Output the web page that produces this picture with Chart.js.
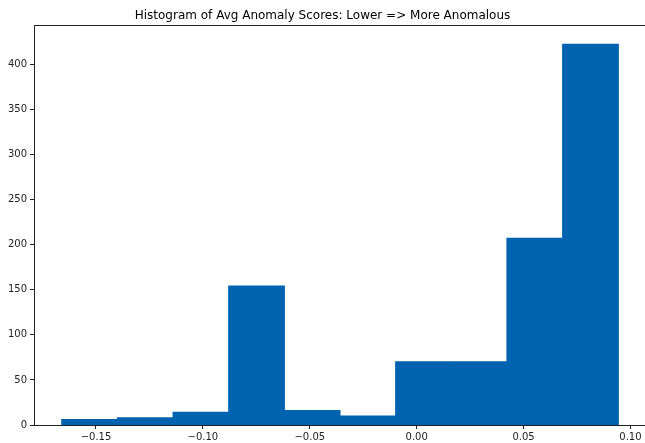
<!DOCTYPE html>
<html>
<head>
<meta charset="utf-8">
<script src="https://cdn.jsdelivr.net/npm/chart.js@4/dist/chart.umd.min.js"></script>
<style>
  html, body { margin: 0; padding: 0; background: #fff; }
  #wrap { width: 645px; height: 443px; }
</style>
</head>
<body>
<div id="wrap"><canvas id="c" width="645" height="443"></canvas></div>
<script>
const titleText = "Histogram of Avg Anomaly Scores: Lower => More Anomalous";
const binEdges = [-0.1660, -0.1400, -0.1139, -0.0879, -0.0619, -0.0359, -0.0098, 0.0162, 0.0422, 0.0683, 0.0943];
const counts = [6, 8, 14, 154, 16, 10, 70, 70, 207, 422];
const xTickValues = [-0.15, -0.10, -0.05, 0.00, 0.05, 0.10];
const yTickValues = [0, 50, 100, 150, 200, 250, 300, 350, 400];
const xRange = [-0.1790, 0.1068];
const yRange = [0, 443.1];

const barData = counts.map((c, i) => ({ x: (binEdges[i] + binEdges[i + 1]) / 2, y: c }));

const frame = {
  id: 'frame',
  afterDatasetsDraw(chart) {
    const a = chart.chartArea, ctx = chart.ctx;
    ctx.save();
    ctx.strokeStyle = '#222';
    ctx.lineWidth = 1;
    const y = Math.round(a.top) + 0.5;
    ctx.beginPath();
    ctx.moveTo(a.left, y);
    ctx.lineTo(a.right + 2, y);
    ctx.stroke();
    ctx.restore();
  }
};

const fmt = v => {
  const s = Math.abs(v).toFixed(2);
  return (v < -1e-9 ? '\u2212' : '') + s;
};

new Chart(document.getElementById('c'), {
  type: 'bar',
  data: {
    datasets: [{
      data: barData,
      backgroundColor: '#0063af',
      borderWidth: 0,
      inflateAmount: 0.6,
      barPercentage: 1.0,
      categoryPercentage: 1.0
    }]
  },
  options: {
    responsive: false,
    animation: false,
    layout: { padding: { left: 0, right: 0, top: 0, bottom: 0 } },
    plugins: {
      legend: { display: false },
      tooltip: { enabled: false },
      title: {
        display: true,
        text: titleText,
        color: '#000',
        font: { family: 'DejaVu Sans', size: 12, weight: 'normal' },
        padding: { top: 9, bottom: 2 }
      }
    },
    scales: {
      x: {
        type: 'linear',
        min: xRange[0],
        max: xRange[1],
        offset: false,
        afterBuildTicks: s => { s.ticks = xTickValues.map(v => ({ value: v })); },
        afterFit: s => { s.height = 18; },
        grid: { display: true, offset: false, drawOnChartArea: false, drawTicks: true, tickLength: 4, color: '#222' },
        border: { display: true, color: '#222', width: 1 },
        ticks: {
          color: '#222',
          font: { family: 'DejaVu Sans', size: 10 },
          padding: 2,
          maxRotation: 0,
          autoSkip: false,
          callback: v => fmt(v)
        }
      },
      y: {
        type: 'linear',
        min: yRange[0],
        max: yRange[1],
        afterBuildTicks: s => { s.ticks = yTickValues.map(v => ({ value: v })); },
        afterFit: s => { s.width = 34; },
        grid: { display: true, offset: false, drawOnChartArea: false, drawTicks: true, tickLength: 4, color: '#222' },
        border: { display: true, color: '#222', width: 1 },
        ticks: {
          color: '#222',
          font: { family: 'DejaVu Sans', size: 10 },
          padding: 3,
          autoSkip: false,
          callback: v => String(v)
        }
      }
    }
  },
  plugins: [frame]
});
</script>
</body>
</html>
